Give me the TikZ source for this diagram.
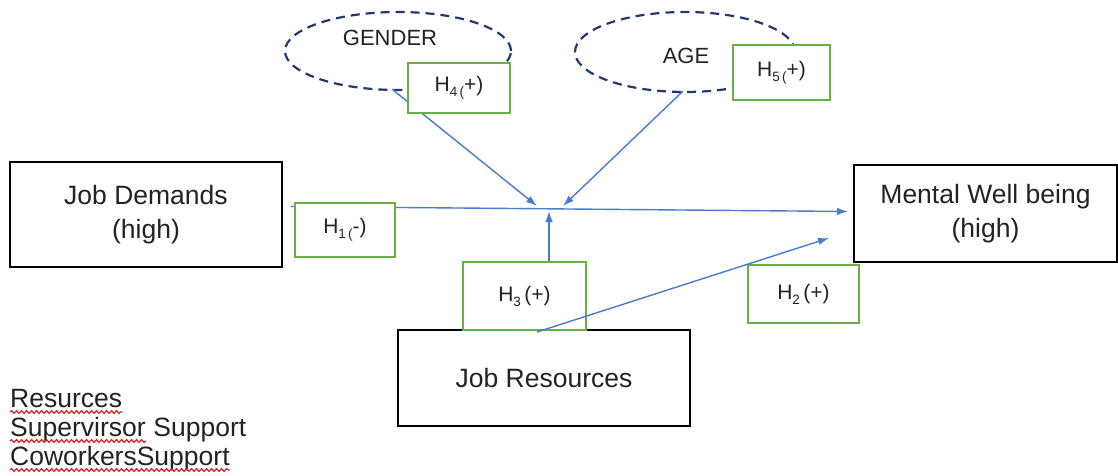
\documentclass[tikz,border=0pt]{standalone}
\usepackage{fontspec}
\setmainfont{Liberation Sans}
\usetikzlibrary{arrows.meta,calc,decorations.pathmorphing,shapes.geometric}
\definecolor{arr}{HTML}{4A7BD0}
\definecolor{grn}{HTML}{6AAF45}
\definecolor{navy}{HTML}{1F3A6E}
\definecolor{txt}{HTML}{222222}
\definecolor{wavy}{HTML}{E02020}
\newcommand\hsub[1]{\raisebox{-0.45ex}{\fontsize{13.5}{13.5}\selectfont #1}}
\begin{document}
\begin{tikzpicture}[x=1pt,y=-1pt,
 blk/.style={draw=black,line width=2pt,fill=white,inner sep=0pt,align=center,font=\fontsize{26.5}{34}\selectfont,text=txt},
 hyp/.style={draw=grn,line width=1.8pt,fill=white,inner sep=0pt,font=\fontsize{21}{24}\selectfont,text=txt},
 moder/.style={ellipse,draw=navy,line width=2.2pt,dash pattern=on 9pt off 6pt,inner sep=0pt},
 modtxt/.style={inner sep=0pt,font=\fontsize{22}{26}\selectfont,text=txt},
 link/.style={draw=arr,line width=1.4pt,-{Latex[length=11pt,width=7.5pt]}},
 note/.style={inner sep=0pt,anchor=base west,font=\fontsize{26.5}{30}\selectfont,text=txt},
 squiggle/.style={draw=wavy,line width=1.2pt,decorate,decoration={snake,amplitude=1.4pt,segment length=5pt}}]
\useasboundingbox (0,0) rectangle (1118,476);

% moderators
\node[moder,minimum width=226pt,minimum height=78pt] (gender) at (398,51) {};
\node[modtxt] (gendertxt) at (390,38) {GENDER};
\node[moder,minimum width=220pt,minimum height=80pt] (age) at (685,52) {};
\node[modtxt] (agetxt) at (686,56) {AGE};

% blocks
\node[blk,minimum width=272pt,minimum height=105pt] (jd) at (146,214.5) {Job Demands\\(high)};
\node[blk,minimum width=263pt,minimum height=97pt] (mw) at (985.5,213.5) {Mental Well being\\(high)};
\node[blk,minimum width=292pt,minimum height=96pt] (jr) at (544,378) {Job Resources};

% hypothesis labels under arrows
\node[hyp,minimum width=123pt,minimum height=68pt] (h3) at (524.5,296) {H\hsub{3}\,(+)};
\node[hyp,minimum width=111pt,minimum height=58pt] (h2) at (803.5,294) {H\hsub{2}\,(+)};

% junction coordinates
\coordinate (jg) at (537,206);
\coordinate (ja) at (563,206);
\coordinate (j3) at (549,211);

% connectors
\draw[link] ($(jd.east)+(8,-8)$) -- ($(mw.west)+(-5,-2)$);
\draw[link] ($(gender.south)+(-6,-2)$) -- (jg);
\draw[link] ($(age.south)+(-2,-2)$) -- (ja);
\draw[link] ($(h3.north)+(24.5,0)$) -- (j3);
\draw[link] ($(jr.north)+(-7,3)$) -- ($(mw.south west)+(-24,-25)$);

% hypothesis labels on top
\node[hyp,minimum width=100pt,minimum height=54pt] (h1) at (345,230) {H\hsub{1\,(}-)};
\node[hyp,minimum width=102pt,minimum height=50pt] (h4) at (459,88) {H\hsub{4\,(}+)};
\node[hyp,minimum width=97pt,minimum height=55pt] (h5) at (781.5,72.5) {H\hsub{5\,(}+)};

% notes
\node[note] (r1) at (10,407) {Resurces};
\node[note] (r2) at (10,436) {Supervirsor};
\node[note] (r2b) at ($(r2.base east)+(7.4,0)$) {Support};
\node[note] (r3) at (10,465) {CoworkersSupport};
\draw[squiggle] ($(r1.base west)+(0,5)$) -- ($(r1.base east)+(0,5)$);
\draw[squiggle] ($(r2.base west)+(0,5)$) -- ($(r2.base east)+(0,5)$);
\draw[squiggle] ($(r3.base west)+(0,5)$) -- ($(r3.base east)+(0,5)$);
\end{tikzpicture}
\end{document}
